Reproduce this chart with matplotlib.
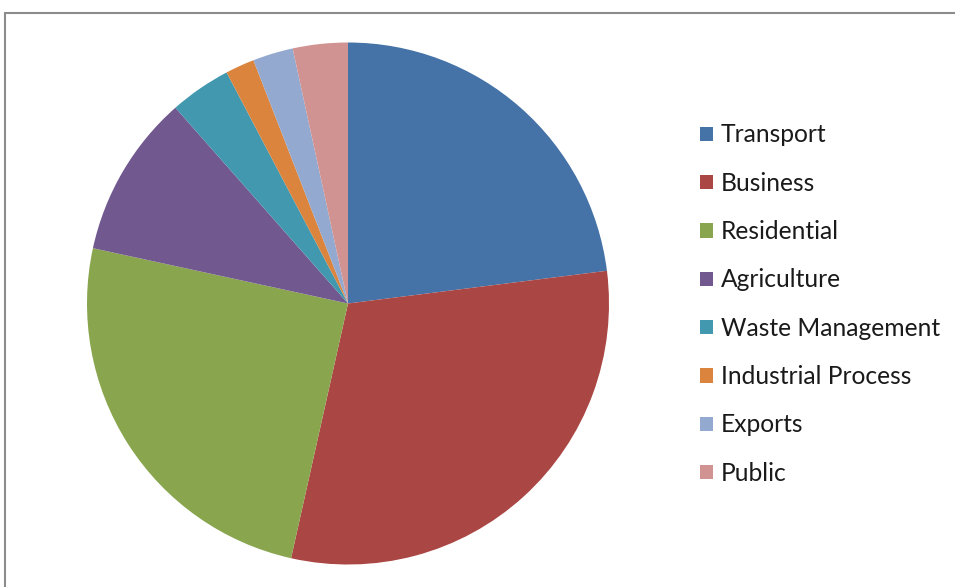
import matplotlib
matplotlib.use("Agg")
import matplotlib.pyplot as plt
from matplotlib.patches import Rectangle

plt.rcParams["font.family"] = ["Lato", "DejaVu Sans"]

# sector shares (%), clockwise from 12 o'clock
categories = ["Transport", "Business", "Residential", "Agriculture",
              "Waste Management", "Industrial Process", "Exports", "Public"]
shares = [23.0, 30.5, 24.9, 10.1, 3.8, 1.8, 2.5, 3.4]
colors = ["#4572A7", "#AA4643", "#89A54E", "#71588F",
          "#4198AF", "#DB843D", "#93A9CF", "#D19392"]

W, H = 955, 587
fig = plt.figure(figsize=(W / 100, H / 100), dpi=100)

# chart frame (runs off right and bottom edges)
fig.patches.append(Rectangle((4.5 / W, -0.05), 1.1, (H - 12.5) / H + 0.05,
                             transform=fig.transFigure, fill=False,
                             edgecolor="#8C8C8C", linewidth=1.5))

cx, cy, r = 348, 303.5, 261
ax = fig.add_axes([(cx - r) / W, (H - cy - r) / H, 2 * r / W, 2 * r / H])
wedges, _ = ax.pie(shares, colors=colors, startangle=90, counterclock=False,
                   radius=1.0, wedgeprops=dict(linewidth=0))
ax.set_xlim(-1, 1)
ax.set_ylim(-1, 1)
ax.set_aspect("auto")
ax.axis("off")

leg = fig.legend(wedges, categories, loc="upper left",
                 bbox_to_anchor=(700 / W, 1 - 123.5 / H), frameon=False,
                 borderpad=0, borderaxespad=0,
                 fontsize=17.7, handlelength=0.52, handleheight=0.52,
                 handletextpad=0.33, labelspacing=1.03)
for t in leg.get_texts():
    t.set_color("#1A1A1A")

fig.savefig("out.png", dpi=100)
